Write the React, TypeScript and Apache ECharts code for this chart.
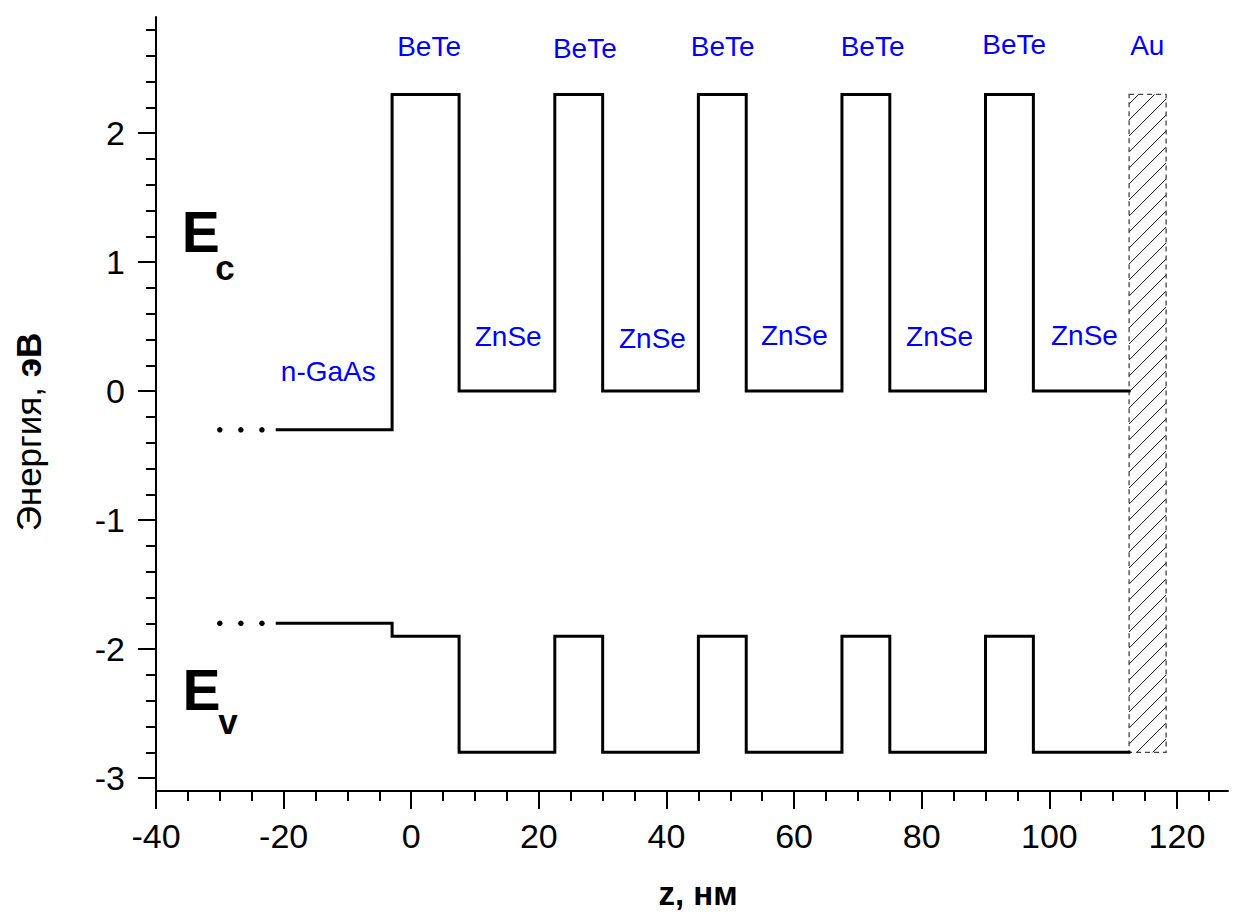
import { useEffect, useRef } from 'react';
import * as echarts from 'echarts';

// Layer boundaries along z (nm): n-GaAs | BeTe | ZnSe | BeTe | ZnSe | ... | ZnSe
const layerEdges = [-21, -3, 7.5, 22.5, 30, 45, 52.5, 67.5, 75, 90, 97.5, 112.5];
// Band edge energies (eV) for each layer between consecutive boundaries
const conductionBand = [-0.3, 2.3, 0, 2.3, 0, 2.3, 0, 2.3, 0, 2.3, 0];
const valenceBand = [-1.8, -1.9, -2.8, -1.9, -2.8, -1.9, -2.8, -1.9, -2.8, -1.9, -2.8];
// Dots showing that the n-GaAs substrate continues to the left
const continuationDotsX = [-30, -26.7, -23.4];
// Au contact: [zStart, zEnd, energyBottom, energyTop]
const goldContact = [112.5, 118.3, -2.8, 2.3];

// Axis ticks
const xMajorTicks = [-40, -20, 0, 20, 40, 60, 80, 100, 120];
const xMinorTicks = [-35, -30, -25, -15, -10, -5, 5, 10, 15, 25, 30, 35, 45, 50, 55, 65, 70, 75, 85, 90, 95, 105, 110, 115, 125];
const yMajorTicks = [-3, -2, -1, 0, 1, 2];
const yMinorTicks = [-2.8, -2.6, -2.4, -2.2, -1.8, -1.6, -1.4, -1.2, -0.8, -0.6, -0.4, -0.2, 0.2, 0.4, 0.6, 0.8, 1.2, 1.4, 1.6, 1.8, 2.2, 2.4, 2.6, 2.8];

// Layer material names and where they are written (z, energy)
const layerNames = ['BeTe', 'BeTe', 'BeTe', 'BeTe', 'BeTe', 'Au', 'ZnSe', 'ZnSe', 'ZnSe', 'ZnSe', 'ZnSe', 'n-GaAs'];
const layerNameZ = [2.8, 27.2, 48.8, 72.3, 94.5, 115.35, 15.2, 37.8, 60.05, 82.8, 105.5, -13.0];
const layerNameE = [2.668, 2.654, 2.668, 2.668, 2.685, 2.677, 0.421, 0.405, 0.429, 0.421, 0.429, 0.15];

// Band symbols E_c and E_v: main letter and subscript anchors (z, energy)
const bandLetters = ['E', 'c', 'E', 'v'];
const bandLetterZ = [-32.98, -29.17, -32.85, -28.73];
const bandLetterE = [1.235, 0.96, -2.319, -2.565];
const bandLetterIsSub = [false, true, false, true];

const FONT = '"Liberation Sans", Arial, Helvetica, sans-serif';

function bandPath(levels: number[]): number[][] {
  const pts: number[][] = [];
  levels.forEach((v, i) => {
    pts.push([layerEdges[i], v], [layerEdges[i + 1], v]);
  });
  return pts;
}

export default function App() {
  const ref = useRef<HTMLDivElement>(null);

  useEffect(() => {
    if (!ref.current) return;
    const chart = echarts.init(ref.current, undefined, { renderer: 'svg' });

    const xMin = -40;
    const xMax = 128;
    const yMin = -3.1;
    const yMax = 2.9;

    const axisLineStyle = { color: '#000', width: 2 };

    const option: any = {
      animation: false,
      backgroundColor: '#fff',
      grid: {
        left: 156,
        top: 17,
        width: 1072,
        height: 774,
        containLabel: false,
        outerBoundsMode: 'none',
      },
      xAxis: [
        {
          type: 'value',
          position: 'bottom',
          min: xMin,
          max: xMax,
          name: 'z, нм',
          nameLocation: 'middle',
          nameGap: 86,
          nameTextStyle: {
            fontFamily: FONT,
            fontSize: 33,
            fontWeight: 'bold',
            color: '#000',
            padding: [0, 0, 0, 12],
          },
          axisLine: { show: true, onZero: false, lineStyle: axisLineStyle },
          axisTick: {
            show: true,
            inside: false,
            length: 18,
            lineStyle: axisLineStyle,
            customValues: xMajorTicks,
          },
          axisLabel: {
            show: true,
            margin: 28,
            fontFamily: FONT,
            fontSize: 34,
            color: '#000',
            customValues: xMajorTicks,
          },
          splitLine: { show: false },
        },
        {
          type: 'value',
          position: 'bottom',
          min: xMin,
          max: xMax,
          axisLine: { show: false, onZero: false },
          axisTick: {
            show: true,
            inside: false,
            length: 10,
            lineStyle: axisLineStyle,
            customValues: xMinorTicks,
          },
          axisLabel: { show: false },
          splitLine: { show: false },
        },
      ],
      yAxis: [
        {
          type: 'value',
          position: 'left',
          min: yMin,
          max: yMax,
          name: 'Энергия, {b|эВ}',
          nameLocation: 'middle',
          nameGap: 110,
          nameRotate: 90,
          nameTextStyle: {
            fontFamily: FONT,
            fontSize: 35,
            color: '#000',
            padding: [0, 56, 0, 0],
            rich: {
              b: { fontFamily: FONT, fontSize: 35, fontWeight: 'bold', color: '#000' },
            },
          },
          axisLine: { show: true, onZero: false, lineStyle: axisLineStyle },
          axisTick: {
            show: true,
            inside: false,
            length: 18,
            lineStyle: axisLineStyle,
            customValues: yMajorTicks,
          },
          axisLabel: {
            show: true,
            margin: 31,
            fontFamily: FONT,
            fontSize: 34,
            color: '#000',
            customValues: yMajorTicks,
          },
          splitLine: { show: false },
        },
        {
          type: 'value',
          position: 'left',
          min: yMin,
          max: yMax,
          axisLine: { show: false, onZero: false },
          axisTick: {
            show: true,
            inside: false,
            length: 10,
            lineStyle: axisLineStyle,
            customValues: yMinorTicks,
          },
          axisLabel: { show: false },
          splitLine: { show: false },
        },
      ],
      series: [
        {
          name: 'Au',
          type: 'custom',
          xAxisIndex: 0,
          yAxisIndex: 0,
          data: [goldContact],
          encode: { x: [0, 1], y: [2, 3] },
          renderItem: (_params: any, api: any) => {
            const tl = api.coord([api.value(0), api.value(3)]);
            const br = api.coord([api.value(1), api.value(2)]);
            const left = tl[0];
            const top = tl[1];
            const right = br[0];
            const bottom = br[1];
            const w = right - left;
            const step = 16;
            const children: any[] = [];
            for (let c = top + step * 0.6; c < bottom + w; c += step) {
              let xa = left;
              let ya = c;
              if (ya > bottom) {
                xa = left + (ya - bottom);
                ya = bottom;
              }
              let xb = left + (c - top);
              let yb = top;
              if (xb > right) {
                yb = top + (xb - right);
                xb = right;
              }
              if (xa < xb) {
                children.push({
                  type: 'line',
                  shape: { x1: xa, y1: ya, x2: xb, y2: yb },
                  style: { stroke: '#111', lineWidth: 1 },
                });
              }
            }
            children.push({
              type: 'rect',
              shape: { x: left, y: top, width: w, height: bottom - top },
              style: { fill: 'none', stroke: '#444', lineWidth: 1.3, lineDash: [5, 4] },
            });
            return { type: 'group', children };
          },
          z: 1,
        },
        {
          name: 'Ec',
          type: 'line',
          data: bandPath(conductionBand),
          showSymbol: false,
          symbol: 'none',
          lineStyle: { color: '#000', width: 3, join: 'miter', cap: 'square', opacity: 1 },
          z: 3,
        },
        {
          name: 'Ev',
          type: 'line',
          data: bandPath(valenceBand),
          showSymbol: false,
          symbol: 'none',
          lineStyle: { color: '#000', width: 3, join: 'miter', cap: 'square', opacity: 1 },
          z: 3,
        },
        {
          name: 'dots',
          type: 'scatter',
          symbol: 'circle',
          symbolSize: 5.5,
          itemStyle: { color: '#000', opacity: 1 },
          data: [
            ...continuationDotsX.map((x) => [x, conductionBand[0]]),
            ...continuationDotsX.map((x) => [x, valenceBand[0]]),
          ],
          z: 3,
        },
        {
          name: 'layers',
          type: 'scatter',
          symbol: 'circle',
          symbolSize: 1,
          itemStyle: { color: 'rgba(255,255,255,0)', opacity: 1 },
          data: layerNames.map((n, i) => ({ name: n, value: [layerNameZ[i], layerNameE[i]] })),
          label: {
            show: true,
            position: 'inside',
            formatter: '{b}',
            fontFamily: FONT,
            fontSize: 28,
            color: '#0000ff',
            opacity: 1,
            textBorderWidth: 0,
          },
          silent: true,
          z: 4,
        },
        {
          name: 'bands',
          type: 'scatter',
          symbol: 'circle',
          symbolSize: 1,
          itemStyle: { color: 'rgba(255,255,255,0)', opacity: 1 },
          data: bandLetters.map((n, i) => ({
            name: n,
            value: [bandLetterZ[i], bandLetterE[i]],
            label: { fontSize: bandLetterIsSub[i] ? 35 : 57 },
          })),
          label: {
            show: true,
            position: 'inside',
            formatter: '{b}',
            fontFamily: FONT,
            fontWeight: 'bold',
            color: '#000',
            opacity: 1,
            textBorderWidth: 0,
          },
          silent: true,
          z: 4,
        },
      ],
    };

    chart.setOption(option);
    return () => chart.dispose();
  }, []);

  return (
    <div
      ref={ref}
      style={{ position: 'absolute', left: 0, top: 0, width: 1236, height: 919, background: '#fff' }}
    />
  );
}
